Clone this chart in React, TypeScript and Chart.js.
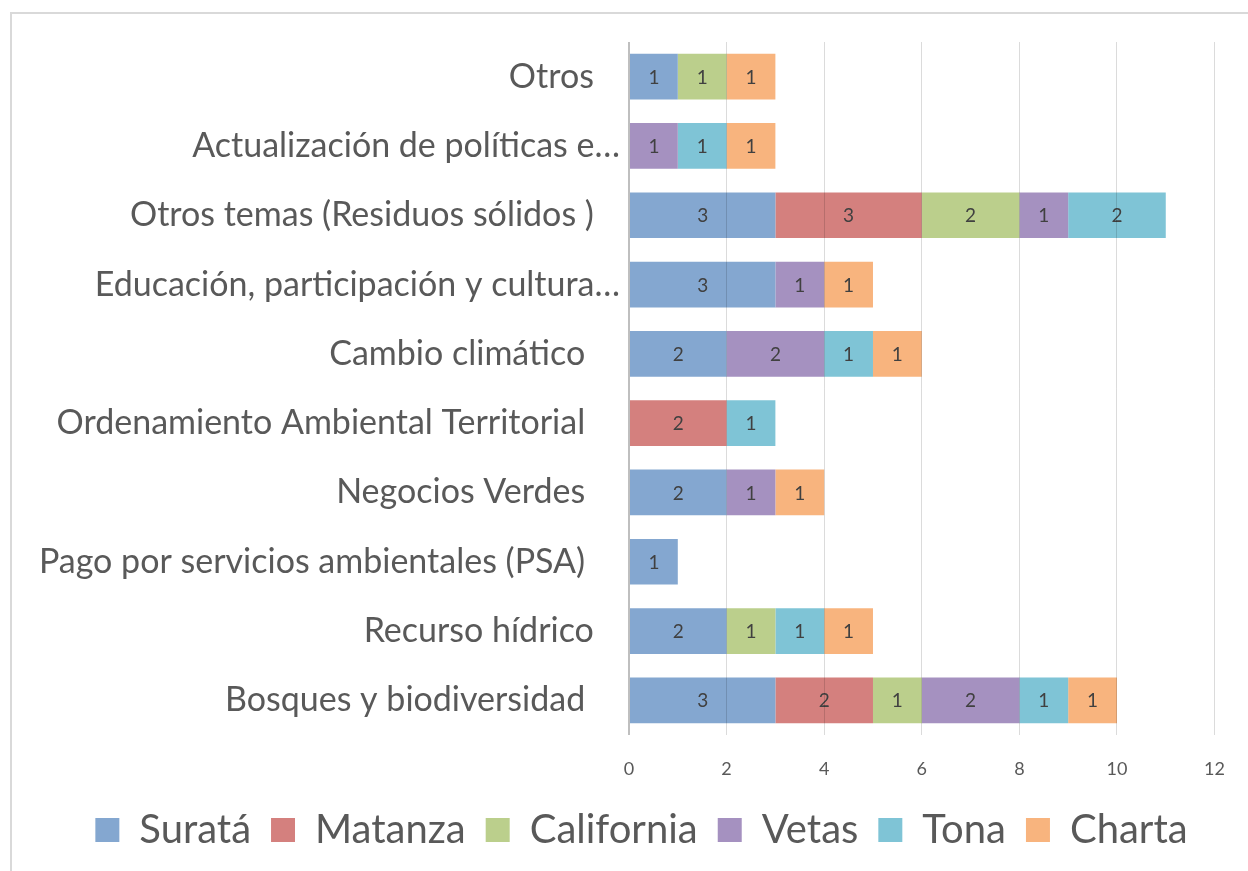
import React, { useEffect, useRef } from "react";
import { Chart, registerables } from "chart.js";

Chart.register(...registerables);

const categories = [
  "Otros   ",
  "Actualización de políticas e…",
  "Otros temas (Residuos sólidos )   ",
  "Educación, participación y cultura…",
  "Cambio climático    ",
  "Ordenamiento Ambiental Territorial    ",
  "Negocios Verdes    ",
  "Pago por servicios ambientales (PSA)    ",
  "Recurso hídrico   ",
  "Bosques y biodiversidad    ",
];

const surata = [1, 0, 3, 3, 2, 0, 2, 1, 2, 3];
const matanza = [0, 0, 3, 0, 0, 2, 0, 0, 0, 2];
const california = [1, 0, 2, 0, 0, 0, 0, 0, 1, 1];
const vetas = [0, 1, 1, 1, 2, 0, 1, 0, 0, 2];
const tona = [0, 1, 2, 0, 1, 1, 0, 0, 1, 1];
const charta = [1, 1, 0, 1, 1, 0, 1, 0, 1, 1];

const seriesNames = ["Suratá", "Matanza", "California", "Vetas", "Tona", "Charta"];
const seriesColors = ["#84A7D0", "#D4807E", "#BBCF8C", "#A591C0", "#7FC4D6", "#F8B47E"];

const xMin = 0;
const xMax = 12;
const xStep = 2;

const FONT = "Lato, 'Open Sans', sans-serif";
const TEXT = "#595959";

const dataLabelPlugin = {
  id: "dataLabels",
  afterDatasetsDraw(chart: any) {
    const ctx = chart.ctx;
    ctx.save();
    ctx.font = `19px ${FONT}`;
    ctx.fillStyle = "#404040";
    ctx.textAlign = "center";
    ctx.textBaseline = "middle";
    chart.data.datasets.forEach((ds: any, di: number) => {
      const meta = chart.getDatasetMeta(di);
      meta.data.forEach((el: any, i: number) => {
        const v = ds.data[i];
        if (!v) return;
        const p = el.getCenterPoint();
        ctx.fillText(String(v), p.x, p.y + 1);
      });
    });
    ctx.restore();
  },
};

// centre the legend row under the whole picture rather than the chart box
const legendShiftPlugin = {
  id: "legendShift",
  afterLayout(chart: any) {
    const lg = chart.legend;
    if (lg) {
      lg.left += 33;
      lg.right += 33;
    }
  },
};

export default function App() {
  const ref = useRef<HTMLCanvasElement | null>(null);

  useEffect(() => {
    document.body.style.margin = "0";
    const all = [surata, matanza, california, vetas, tona, charta];
    const chart = new Chart(ref.current as HTMLCanvasElement, {
      type: "bar",
      data: {
        labels: categories,
        datasets: all.map((d, i) => ({
          label: seriesNames[i],
          data: d,
          backgroundColor: seriesColors[i],
          borderWidth: 0,
          categoryPercentage: 1,
          barPercentage: 0.66,
        })),
      },
      options: {
        indexAxis: "y",
        animation: false,
        responsive: false,
        maintainAspectRatio: false,
        layout: { padding: { top: 42, right: 31, bottom: 11, left: 0 } },
        plugins: {
          tooltip: { enabled: false },
          legend: {
            position: "bottom",
            labels: {
              boxWidth: 24,
              boxHeight: 24,
              padding: 20,
              color: TEXT,
              font: { family: FONT, size: 40 },
            },
          },
        },
        scales: {
          x: {
            stacked: true,
            min: xMin,
            max: xMax,
            ticks: {
              stepSize: xStep,
              color: TEXT,
              padding: 23,
              font: { family: FONT, size: 18 },
            },
            grid: {
              z: 1,
              color: (c: any) => (c.tick && c.tick.value === 0 ? "rgba(0,0,0,0.25)" : "rgba(0,0,0,0.14)"),
              lineWidth: (c: any) => (c.tick && c.tick.value === 0 ? 2 : 1),
              drawTicks: false,
            },
            border: { display: false },
            afterFit: (s: any) => {
              s.height = 55;
            },
          },
          y: {
            stacked: true,
            ticks: {
              color: TEXT,
              padding: 1,
              font: { family: FONT, size: 34 },
            },
            grid: { display: false },
            border: { display: false },
            afterFit: (s: any) => {
              s.width = 629;
            },
          },
        },
      },
      plugins: [dataLabelPlugin, legendShiftPlugin],
    } as any);
    return () => chart.destroy();
  }, []);

  return (
    <div style={{ position: "relative", width: 1248, height: 871, overflow: "hidden", background: "#fff" }}>
      <canvas ref={ref} width={1248} height={871} style={{ position: "absolute", left: 0, top: 0 }} />
      <div
        style={{
          position: "absolute",
          left: 10,
          top: 12,
          width: 1260,
          height: 880,
          borderLeft: "2px solid #D9D9D9",
          borderTop: "2px solid #D9D9D9",
          pointerEvents: "none",
        }}
      />
    </div>
  );
}
